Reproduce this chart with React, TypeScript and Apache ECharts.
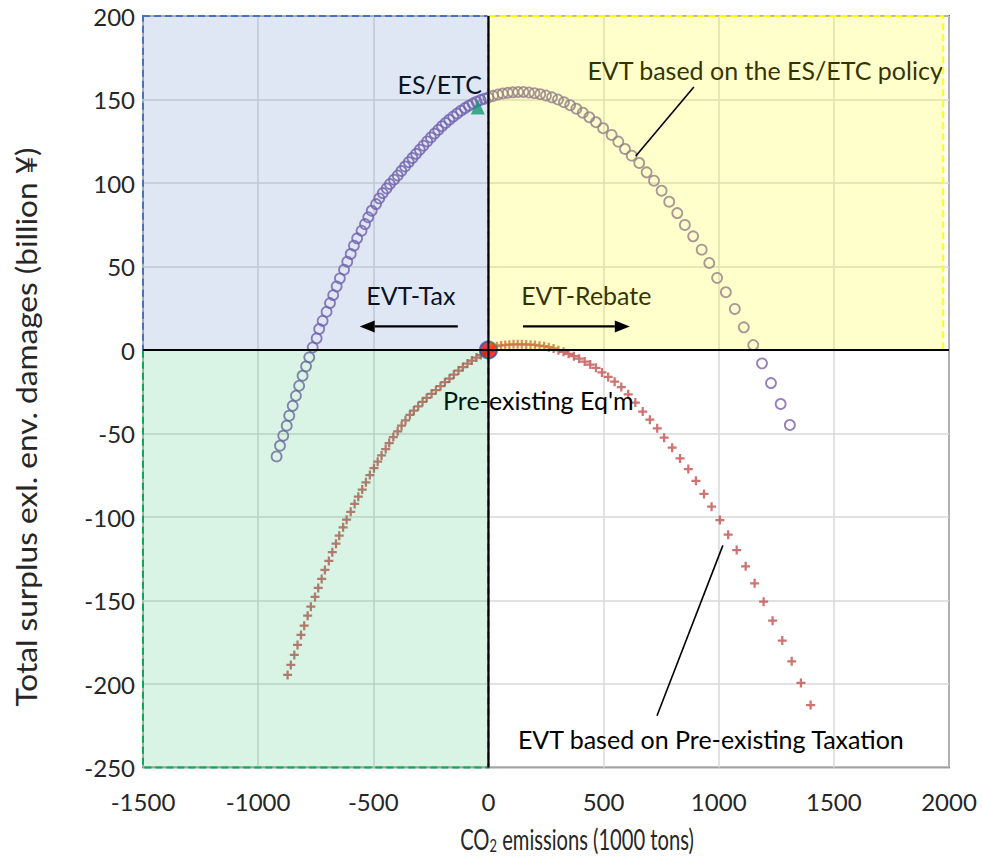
import React, { useEffect, useRef } from "react";
import * as echarts from "echarts";

// EVT curve based on the ES/ETC policy (hollow circles)
const esX = [
  -920, -905, -891, -876, -865, -850, -836, -822, -807, -792, -778, -763, -746, -735, -720, -703, -688, -674, -659, -645,
  -627, -613, -598, -584, -570, -551, -536, -522, -507, -488, -474, -459, -442, -428, -410,
  -394, -378, -362, -346, -330, -314, -298, -282, -266, -250, -234, -218, -202, -186, -170, -153, -136, -119, -102, -85,
  -68, -51, -34, -17, 0,
  20, 41, 62, 84, 106, 129, 152, 176, 200, 225, 250, 276, 302, 328, 355, 382, 410, 438, 467, 498,
  535, 564, 593, 622, 655, 687, 719, 752, 785, 820, 853, 889, 926, 959, 993, 1031, 1070, 1109, 1150, 1188, 1227, 1269, 1309,
];
const esY = [
  -63.7, -57.3, -51.3, -45.3, -39.3, -33.4, -27.4, -21.4, -15.4, -9.8, -4.4, 1.6, 7.0, 12.6, 17.5, 22.9, 28.1, 32.9, 38.1, 42.9,
  48.1, 52.9, 57.5, 62.5, 66.9, 71.4, 75.4, 79.5, 83.4, 87.4, 90.8, 94.0, 96.8, 99.4, 102.0,
  104.5, 107.2, 109.9, 112.5, 115.0, 117.5, 120.0, 122.4, 124.9, 127.3, 129.6, 131.8, 134.0, 136.0, 137.9, 139.8, 141.6, 143.3, 144.9, 146.3,
  147.6, 148.7, 149.7, 150.5, 151.2,
  152.2, 153.0, 153.6, 154.0, 154.3, 154.5, 154.5, 154.2, 153.8, 153.2, 152.4, 151.3, 150.0, 148.4, 146.6, 144.5, 142.1, 139.4, 136.4, 132.8,
  128.8, 124.8, 120.4, 116.4, 112.0, 106.4, 101.4, 95.4, 88.8, 82.0, 74.9, 68.1, 60.1, 52.1, 43.2, 34.6, 24.6, 13.6, 3.0, -8.0, -19.8, -32.3, -44.9,
];

// EVT curve based on pre-existing taxation (plus markers)
const taxX = [
  -872, -858, -843, -829, -814, -800, -785, -771, -753, -739, -724, -710, -693, -678, -662, -648, -631, -616, -598, -581,
  -565, -548, -532, -515, -497, -481, -464, -446, -431, -413, -394, -377, -360, -341, -324, -305, -286, -268, -247, -228,
  -208, -189, -169, -150, -130, -111, -91, -72, -52, -33, -15, 0,
  19, 37, 55, 73, 91, 109, 127, 145, 164, 183, 202, 222, 242, 262, 283, 304, 326, 348, 371, 394, 418, 442, 467, 493,
  520, 548, 577, 607, 638,
  670, 701, 733, 763, 798, 832, 868, 901, 936, 969, 1005, 1041, 1078, 1117, 1156, 1195, 1234, 1276, 1317, 1357, 1399,
];
const taxY = [
  -194.6, -188.6, -182.6, -176.6, -170.6, -165.1, -159.1, -153.7, -147.9, -142.5, -137.1, -131.7, -126.3, -121.1, -116.0, -111.2, -106.2, -101.6, -96.9, -92.2,
  -87.8, -83.6, -79.2, -74.9, -70.8, -66.9, -63.1, -59.3, -55.7, -52.1, -48.7, -45.3, -42.1, -38.9, -36.3, -33.7, -31.0, -28.6, -26.2, -24.0,
  -21.7, -19.3, -17.1, -14.7, -12.3, -10.2, -8.1, -6.3, -4.5, -3.0, -1.5, 0,
  1.6, 2.3, 2.7, 3.0, 3.2, 3.4, 3.4, 3.4, 3.3, 3.2, 3.0, 2.6, 2.3, 1.7, 0.9, -0.1, -1.1, -2.3, -3.7, -5.2, -6.9, -8.7, -10.7, -13.4,
  -16.1, -19.0, -22.2, -26.5, -31.5,
  -36.9, -41.7, -46.9, -52.5, -58.5, -64.9, -71.3, -78.3, -86.2, -93.8, -101.8, -110.6, -119.8, -129.5, -139.7, -150.7, -162.1, -174.0, -186.4, -199.4, -212.6,
];

// Highlighted points
const esEtcPoint = [-46, 145.5];
const preExistingPoint = [0, 0];

// Shaded regions: [xFrom, yFrom, xTo, yTo]
const regionTax = [-1500, 0, 0, 200];
const regionRebate = [0, 0, 1975, 200];
const regionLoss = [-1500, -250, 0, 0];

// Guide segments: [x1, y1, x2, y2]
const zeroV = [0, -250, 0, 200];
const zeroH = [-1500, 0, 2000, 0];
const leaderEs = [892, 157.5, 640, 116.2];
const leaderTax = [732, -219, 1018, -117];
const arrowTax = [-133, 14.1, -559, 14.1];
const arrowRebate = [150, 14.1, 614, 14.1];

// Annotation texts and their anchors in data units
const noteLabels = [
  "ES/ETC",
  "EVT based on the ES/ETC policy",
  "EVT-Tax",
  "EVT-Rebate",
  "Pre-existing Eq'm",
  "EVT based on Pre-existing Taxation",
];
const noteAnchors = [
  [-28, 159],
  [1973, 167.5],
  [-337, 33],
  [425, 33],
  [-197, -30],
  [128, -233],
];
const noteAlign = ["right", "right", "center", "center", "left", "left"];

const xTitle = "{a|CO}{b|2}{a| emissions (1000 tons)}";
const yTitle = "Total surplus exl. env. damages (billion ¥)";

const FONT = "Lato, 'Open Sans', sans-serif";
const PLUS = "path://M3,0H5V3H8V5H5V8H3V5H0V3H3Z";

const regionStyles = [
  { fill: "rgba(68,114,196,0.17)", stroke: "#4472C4" },
  { fill: "rgba(255,255,0,0.2)", stroke: "#FFFF00" },
  { fill: "rgba(0,176,80,0.15)", stroke: "#00B050" },
];
// 0 = axis through zero, 1 = leader line, 2 = arrow
const guideKinds = [0, 0, 1, 1, 2, 2];

export default function App() {
  const ref = useRef<HTMLDivElement>(null);

  useEffect(() => {
    const chart = echarts.init(ref.current!, null, { renderer: "svg" });

    const esData = esX.map((x, i) => [x, esY[i]]);
    const taxData = taxX.map((x, i) => [x, taxY[i]]);
    const regions = [regionTax, regionRebate, regionLoss];
    const guides = [zeroV, zeroH, leaderEs, leaderTax, arrowTax, arrowRebate];

    chart.setOption({
      animation: false,
      backgroundColor: "#fff",
      grid: {
        left: 143,
        right: 33,
        top: 16,
        bottom: 98.5,
        containLabel: false,
        outerBoundsMode: "none",
        show: true,
        borderColor: "#000",
        borderWidth: 1.5,
        backgroundColor: "transparent",
      },
      xAxis: {
        type: "value",
        min: -1500,
        max: 2000,
        interval: 500,
        axisLine: { show: false, onZero: false },
        axisTick: { show: false },
        splitLine: { lineStyle: { color: "#D9D9D9", width: 1.5 } },
        axisLabel: {
          fontFamily: FONT,
          fontSize: 24,
          color: "#262626",
          margin: 22,
          formatter: (v: number) => String(v),
        },
      },
      yAxis: {
        type: "value",
        min: -250,
        max: 200,
        interval: 50,
        axisLine: { show: false, onZero: false },
        axisTick: { show: false },
        splitLine: { lineStyle: { color: "#D9D9D9", width: 1.5 } },
        axisLabel: {
          fontFamily: FONT,
          fontSize: 24,
          color: "#262626",
          margin: 8,
          formatter: (v: number) => String(v),
        },
      },
      series: [
        {
          type: "scatter",
          name: "ES/ETC policy",
          data: esData,
          symbol: "circle",
          symbolSize: 10,
          itemStyle: { color: "rgba(0,0,0,0)", borderColor: "#7B5EA7", borderWidth: 1.8 },
          z: 3,
          silent: true,
        },
        {
          type: "scatter",
          name: "Pre-existing taxation",
          data: taxData,
          symbol: PLUS,
          symbolSize: 9,
          itemStyle: { color: "#C0504D" },
          z: 3,
          silent: true,
        },
        {
          type: "scatter",
          name: "ES/ETC",
          data: [esEtcPoint],
          symbol: "triangle",
          symbolSize: [14, 15],
          itemStyle: { color: "#0FA060" },
          z: 4,
          silent: true,
        },
        {
          type: "scatter",
          name: "Pre-existing Eq'm",
          data: [preExistingPoint],
          symbol: "circle",
          symbolSize: 17,
          itemStyle: { color: "#FF0000", borderColor: "#2F5597", borderWidth: 2 },
          z: 4,
          silent: true,
        },
        {
          type: "custom",
          name: "regions",
          data: regions,
          encode: { x: [0, 2], y: [1, 3] },
          z: 10,
          silent: true,
          renderItem: (params: any, api: any) => {
            const p0 = api.coord([api.value(0), api.value(1)]);
            const p1 = api.coord([api.value(2), api.value(3)]);
            const st = regionStyles[params.dataIndex];
            return {
              type: "rect",
              shape: {
                x: Math.min(p0[0], p1[0]),
                y: Math.min(p0[1], p1[1]),
                width: Math.abs(p1[0] - p0[0]),
                height: Math.abs(p1[1] - p0[1]),
              },
              style: { fill: st.fill, stroke: st.stroke, lineWidth: 2, lineDash: [7, 4] },
            };
          },
        },
        {
          type: "custom",
          name: "guides",
          data: guides,
          encode: { x: [0, 2], y: [1, 3] },
          z: 12,
          silent: true,
          renderItem: (params: any, api: any) => {
            const p0 = api.coord([api.value(0), api.value(1)]);
            const p1 = api.coord([api.value(2), api.value(3)]);
            const kind = guideKinds[params.dataIndex];
            if (kind !== 2) {
              return {
                type: "line",
                shape: { x1: p0[0], y1: p0[1], x2: p1[0], y2: p1[1] },
                style: { stroke: "#000", lineWidth: kind === 0 ? 2.2 : 1.6 },
              };
            }
            const dx = p1[0] - p0[0];
            const dy = p1[1] - p0[1];
            const len = Math.sqrt(dx * dx + dy * dy);
            const ux = dx / len;
            const uy = dy / len;
            const head = 15;
            const half = 6;
            const bx = p1[0] - ux * head;
            const by = p1[1] - uy * head;
            return {
              type: "group",
              children: [
                {
                  type: "line",
                  shape: { x1: p0[0], y1: p0[1], x2: bx, y2: by },
                  style: { stroke: "#000", lineWidth: 2.2 },
                },
                {
                  type: "polygon",
                  shape: {
                    points: [
                      [p1[0], p1[1]],
                      [bx - uy * half, by + ux * half],
                      [bx + uy * half, by - ux * half],
                    ],
                  },
                  style: { fill: "#000" },
                },
              ],
            };
          },
        },
      ],
    });

    const notes = noteLabels.map((t, i) => {
      const p = chart.convertToPixel({ gridIndex: 0 }, noteAnchors[i]) as number[];
      return {
        type: "text",
        x: p[0],
        y: p[1],
        z: 5,
        silent: true,
        style: {
          text: t,
          fill: "#000",
          font: `25px ${FONT}`,
          textAlign: noteAlign[i],
          textVerticalAlign: "middle",
        },
      };
    });

    const titles = [
      {
        type: "text",
        x: 577,
        y: 839,
        silent: true,
        scaleX: 0.72,
        style: {
          text: xTitle,
          textAlign: "center",
          textVerticalAlign: "middle",
          rich: {
            a: { fontFamily: FONT, fontSize: 28, fill: "#262626" },
            b: { fontFamily: FONT, fontSize: 18, fill: "#262626", padding: [13, 0, 0, 0] },
          },
        },
      },
      {
        type: "text",
        x: 26,
        y: 427,
        rotation: Math.PI / 2,
        scaleX: 1.13,
        silent: true,
        style: {
          text: yTitle,
          fill: "#262626",
          font: `28px ${FONT}`,
          textAlign: "center",
          textVerticalAlign: "middle",
        },
      },
    ];

    chart.setOption({ graphic: [...notes, ...titles] });

    return () => chart.dispose();
  }, []);

  return (
    <div
      ref={ref}
      style={{ position: "fixed", left: 0, top: 0, width: 982, height: 866, background: "#fff" }}
    />
  );
}
